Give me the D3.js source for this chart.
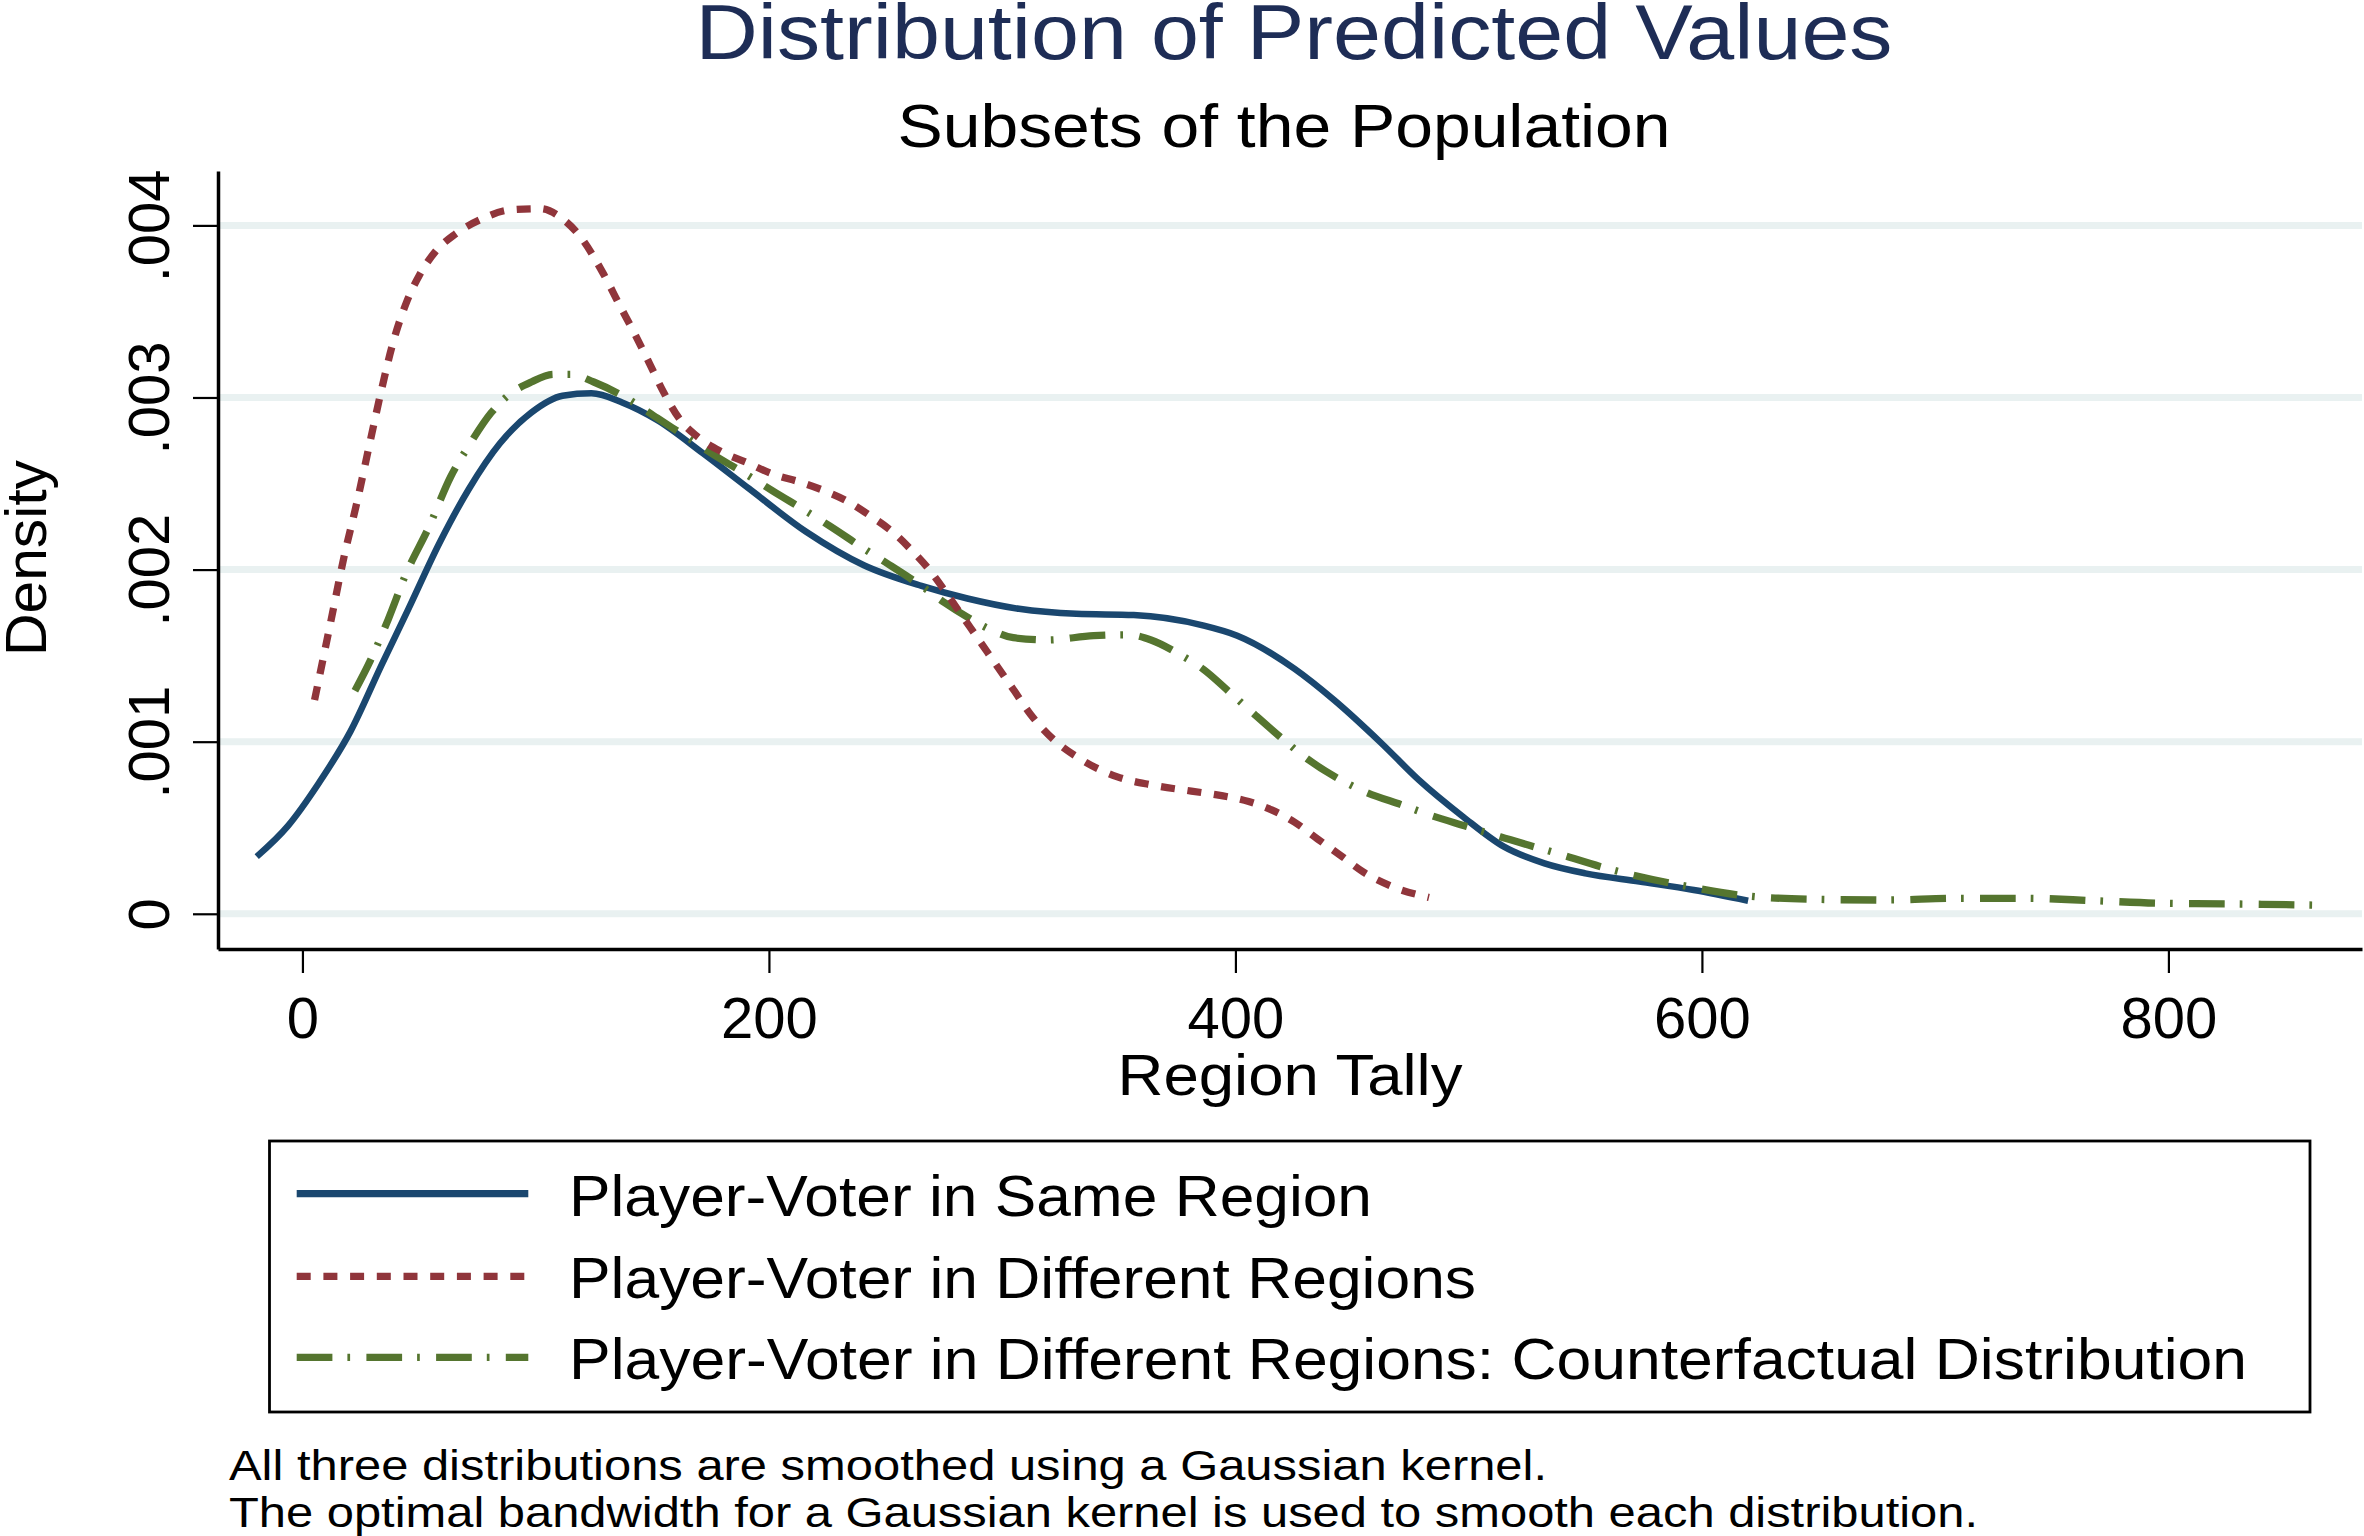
<!DOCTYPE html>
<html>
<head>
<meta charset="utf-8">
<script src="https://cdn.jsdelivr.net/npm/d3@7"></script>
<style>
  html, body { margin: 0; padding: 0; background: #fff; }
  svg { display: block; }
  text { font-family: "Liberation Sans", Arial, Helvetica, sans-serif; }
</style>
</head>
<body>
<svg id="chart" width="2364" height="1536"></svg>
<script>
// ---------------- DATA ----------------
const titleText = "Distribution of Predicted Values";
const subtitleText = "Subsets of the Population";
const xAxisTitle = "Region Tally";
const yAxisTitle = "Density";
const xTickValues = [0, 200, 400, 600, 800];
const xTickLabels = ["0", "200", "400", "600", "800"];
const yTickValues = [0, 0.001, 0.002, 0.003, 0.004];
const yTickLabels = ["0", ".001", ".002", ".003", ".004"];
const seriesNames = [
  "Player-Voter in Same Region",
  "Player-Voter in Different Regions",
  "Player-Voter in Different Regions: Counterfactual Distribution"
];
const notes = [
  "All three distributions are smoothed using a Gaussian kernel.",
  "The optimal bandwidth for a Gaussian kernel is used to smooth each distribution."
];

// x = region tally, d = density (x 1e-3)
const sameRegionX = [-19.6,-6.2,7.2,20.6,33.9,45.4,58.8,71.3,84.7,98.1,111.5,123.9,137.3,152.2,171.8,191.5,216.1,240.7,265.4,285.1,307.2,331.8,356.4,386,400.8,425.4,442.3,462.6,478.6,497.6,515.1,532.5,550,573.2,596.5,619.8];
const sameRegionD = [0.332,0.511,0.763,1.060,1.445,1.770,2.156,2.467,2.734,2.912,3.010,3.024,2.970,2.868,2.675,2.470,2.218,2.025,1.905,1.832,1.772,1.743,1.736,1.676,1.616,1.423,1.242,0.991,0.778,0.564,0.390,0.293,0.235,0.187,0.138,0.076];

const diffRegionX = [5.2,11.9,17.7,23.4,29.1,33.9,38.7,44.5,50.2,56.9,65.5,77,88.5,101.9,111.5,119.1,128.7,136.2,142.3,148.5,154.6,162,169.4,179.2,191.5,201.4,213.7,223.6,233.4,243.3,253.1,260.5,267.9,275.2,282.6,290,297.4,304.8,312.2,322,334.3,349.1,363.8,381.1,393.4,405.7,415.5,425.4,435.2,445.1,454.9,467.2,483];
const diffRegionD = [1.242,1.681,2.066,2.393,2.749,3.045,3.312,3.549,3.712,3.846,3.949,4.038,4.089,4.097,4.038,3.935,3.727,3.531,3.374,3.206,3.037,2.869,2.772,2.688,2.616,2.556,2.507,2.459,2.399,2.314,2.218,2.122,2.013,1.881,1.736,1.592,1.447,1.303,1.158,1.013,0.893,0.797,0.749,0.713,0.688,0.652,0.604,0.532,0.435,0.339,0.242,0.158,0.095];

const counterX = [22.5,29.2,36.8,44.5,54.1,63.6,71.3,80.9,88.5,98.1,107.7,115.3,124.9,139.9,152.2,164.5,176.8,191.5,201.4,216.1,226,240.7,250.6,265.4,275.2,285.1,294.9,304.8,319.5,339.2,354,363.8,376.1,386,398.3,408.2,420.5,430.3,442.6,454.9,472.1,482,499.2,513.5,535.4,561.6,590.7,619.8,648.9,678,710,739.1,768.2,797.3,829.3,865];
const counterD = [1.296,1.474,1.711,1.978,2.244,2.541,2.719,2.911,3.015,3.090,3.134,3.134,3.090,2.989,2.880,2.772,2.663,2.543,2.459,2.338,2.254,2.122,2.037,1.905,1.809,1.724,1.652,1.604,1.591,1.616,1.621,1.591,1.507,1.423,1.278,1.158,1.013,0.905,0.797,0.713,0.629,0.580,0.507,0.447,0.361,0.255,0.167,0.103,0.084,0.080,0.090,0.090,0.076,0.061,0.057,0.050];

// ---------------- STYLE ----------------
const colors = ["#1a476f", "#90353b", "#55752f"];
const dashes = [null, "14,12.7", "35.7,15,2.7,16.3"];
const widths = [6.5, 7.3, 7.3];

const svg = d3.select("#chart");
const L = 218, R = 2362, T = 171, B = 949;

const x = d3.scaleLinear().domain([-36.2, 883]).range([L, R]);
const y = d3.scaleLinear().domain([-0.0002046, 0.004316]).range([B, T]);

// size by font height, then squeeze horizontally to the reference's width
function styleText(sel, fontSize, targetWidth) {
  sel.style("font-size", fontSize + "px");
  if (targetWidth) sel.attr("textLength", targetWidth).attr("lengthAdjust", "spacingAndGlyphs");
  return sel;
}

// gridlines
svg.append("g").selectAll("line").data(yTickValues).join("line")
  .attr("x1", L + 2).attr("x2", R)
  .attr("y1", d => y(d)).attr("y2", d => y(d))
  .attr("stroke", "#e9f1f1").attr("stroke-width", 7);

// series
const series = [
  sameRegionX.map((v, i) => [v, sameRegionD[i] / 1000]),
  diffRegionX.map((v, i) => [v, diffRegionD[i] / 1000]),
  counterX.map((v, i) => [v, counterD[i] / 1000])
];
const line = d3.line().x(d => x(d[0])).y(d => y(d[1])).curve(d3.curveMonotoneX);
[0, 2, 1].forEach(k => {
  svg.append("path").datum(series[k])
    .attr("d", line)
    .attr("fill", "none")
    .attr("stroke", colors[k])
    .attr("stroke-width", widths[k])
    .attr("stroke-linejoin", "round")
    .attr("stroke-linecap", "butt")
    .attr("stroke-dasharray", dashes[k]);
});

// x axis
const xAxis = d3.axisBottom(x).tickValues(xTickValues)
  .tickFormat((d, i) => xTickLabels[i]).tickSizeInner(24).tickSizeOuter(0).tickPadding(10);
const gx = svg.append("g").attr("transform", `translate(0,${B})`).call(xAxis);
gx.select(".domain").attr("stroke", "#000").attr("stroke-width", 3.5);
gx.selectAll(".tick line").attr("stroke", "#000").attr("stroke-width", 2.2);
gx.selectAll(".tick text").attr("fill", "#000").attr("y", 89).attr("dy", 0)
  .style("font-size", "58px");

// y axis
const yAxis = d3.axisLeft(y).tickValues(yTickValues)
  .tickFormat((d, i) => yTickLabels[i]).tickSizeInner(25).tickSizeOuter(0);
const gy = svg.append("g").attr("transform", `translate(${L},0)`).call(yAxis);
gy.select(".domain").attr("stroke", "#000").attr("stroke-width", 3.5);
gy.selectAll(".tick line").attr("stroke", "#000").attr("stroke-width", 2.2);
gy.selectAll(".tick text").attr("fill", "#000")
  .attr("x", 0).attr("dy", 0)
  .attr("text-anchor", "middle")
  .attr("transform", `translate(${169 - L},0) rotate(-90)`)
  .style("font-size", "58px");

// titles
styleText(svg.append("text").text(titleText)
  .attr("x", 1294).attr("y", 59).attr("text-anchor", "middle").attr("fill", "#1e2d56"), 77, 1197);
styleText(svg.append("text").text(subtitleText)
  .attr("x", 1284).attr("y", 147).attr("text-anchor", "middle").attr("fill", "#000"), 61, 773);
styleText(svg.append("text").text(xAxisTitle)
  .attr("x", 1290).attr("y", 1095).attr("text-anchor", "middle").attr("fill", "#000"), 57, 345);
styleText(svg.append("text").text(yAxisTitle)
  .attr("text-anchor", "middle").attr("fill", "#000")
  .attr("transform", `translate(46,558) rotate(-90)`), 58, 196);

// legend
svg.append("rect").attr("x", 269.5).attr("y", 1141).attr("width", 2310 - 269.5).attr("height", 1412 - 1141)
  .attr("fill", "none").attr("stroke", "#000").attr("stroke-width", 2.8);
const legY = [1193.7, 1276.3, 1357.3];
const legW = [803, 907, 1678];
seriesNames.forEach((n, i) => {
  styleText(svg.append("text").text(n)
    .attr("x", 569).attr("y", legY[i] + 22).attr("fill", "#000"), 58, legW[i]);
  svg.append("line").attr("x1", 296.7).attr("x2", 528.3)
    .attr("y1", legY[i]).attr("y2", legY[i])
    .attr("stroke", colors[i]).attr("stroke-width", 7.3)
    .attr("stroke-dasharray", dashes[i]).attr("stroke-linecap", "butt");
});

// notes
const noteY = [1480, 1527];
const noteW = [1318, 1749];
notes.forEach((n, i) => {
  styleText(svg.append("text").text(n)
    .attr("x", 229).attr("y", noteY[i]).attr("fill", "#000"), 43, noteW[i]);
});
</script>
</body>
</html>
